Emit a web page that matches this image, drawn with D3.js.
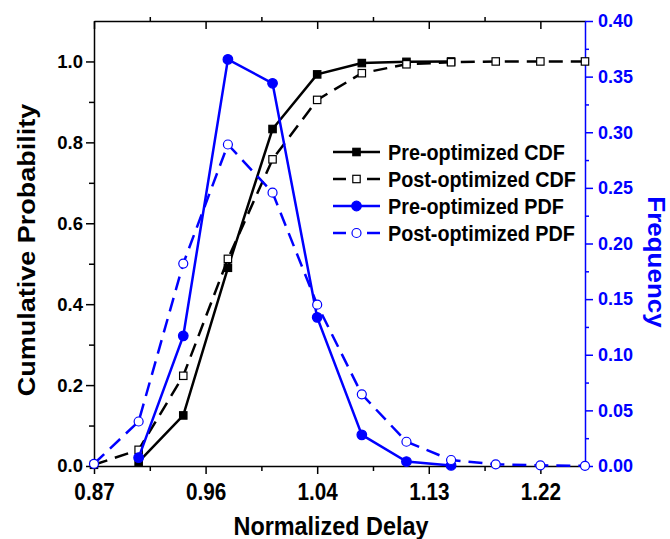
<!DOCTYPE html>
<html>
<head>
<meta charset="utf-8">
<script src="https://cdn.jsdelivr.net/npm/d3@7/dist/d3.min.js"></script>
<style>
  body { margin: 0; background: #fff; }
  svg { display: block; font-family: "Liberation Sans", Arial, sans-serif; }
</style>
</head>
<body>
<script>
// values
const delay = [0.87, 0.905, 0.94, 0.975, 1.01, 1.045, 1.08, 1.115, 1.15, 1.185, 1.22, 1.255];
const preCdf = [null, 0.01, 0.125, 0.49, 0.833, 0.968, 0.996, 0.999, 1.0, null, null, null];
const postCdf = [0.003, 0.04, 0.223, 0.512, 0.758, 0.905, 0.971, 0.993, 0.998, 1.0, 1.0, 1.0];
const prePdf = [null, 0.0075, 0.117, 0.3655, 0.344, 0.1336, 0.028, 0.004, 0.0005, null, null, null];
const postPdf = [0.002, 0.04, 0.182, 0.289, 0.2457, 0.145, 0.0644, 0.0218, 0.0054, 0.0015, 0.0006, 0.0002];

const xTicks = [0.87, 0.9575, 1.045, 1.1325, 1.22];
const xTickLabels = ["0.87", "0.96", "1.04", "1.13", "1.22"];
const leftTicks = [0, 0.2, 0.4, 0.6, 0.8, 1.0];
const rightTicks = [0, 0.05, 0.1, 0.15, 0.2, 0.25, 0.3, 0.35, 0.4];

const width = 670, height = 539;
const margin = {top: 21, right: 85, bottom: 73, left: 94};
const blue = "#0000ff";

const svg = d3.select("body").append("svg")
    .attr("width", width).attr("height", height);

const x = d3.scaleLinear().domain([0.87, 1.255]).range([margin.left, width - margin.right]);
const yL = d3.scaleLinear().domain([0, 1.1]).range([height - margin.bottom, margin.top]);
const yR = d3.scaleLinear().domain([0, 0.4]).range([height - margin.bottom, margin.top]);

const bottom = height - margin.bottom;

// minor ticks first, so major ticks sit on top
const xMinor = xTicks.slice(0, -1).map((t, i) => (t + xTicks[i + 1]) / 2);
const leftMinor = leftTicks.slice(0, -1).map(t => t + 0.1);
const rightMinor = rightTicks.slice(0, -1).map(t => t + 0.025);

function minor(axis, vals, size, color, transform) {
    svg.append("g").attr("transform", transform)
        .call(axis.tickValues(vals).tickSize(size).tickSizeOuter(0).tickFormat(""))
        .call(g => g.select(".domain").remove())
        .call(g => g.selectAll("line").attr("stroke", color).attr("stroke-width", 1.5));
}
minor(d3.axisBottom(x), xMinor, 5, "#000", `translate(0,${bottom})`);
minor(d3.axisBottom(x), xMinor, -4, "#000", `translate(0,${margin.top})`);
minor(d3.axisLeft(yL), leftMinor, 5, "#000", `translate(${margin.left},0)`);
minor(d3.axisRight(yR), rightMinor, 4, blue, `translate(${width - margin.right},0)`);

// bottom axis
svg.append("g")
    .attr("transform", `translate(0,${bottom})`)
    .call(d3.axisBottom(x).tickValues(xTicks).tickSize(8).tickSizeOuter(0).tickPadding(10)
        .tickFormat((d, i) => xTickLabels[i]))
    .call(g => g.select(".domain").attr("stroke-width", 1.5))
    .call(g => g.selectAll("line").attr("stroke-width", 1.5))
    .call(g => g.selectAll("text")
        .attr("font-size", 23).attr("font-weight", "bold").attr("fill", "#000")
        .attr("font-family", "Liberation Sans, Arial, sans-serif")
        .attr("transform", "scale(0.9,1)"));

// top axis, ticks inside, no labels
svg.append("g")
    .attr("transform", `translate(0,${margin.top})`)
    .call(d3.axisTop(x).tickValues(xTicks).tickSize(-8).tickSizeOuter(0).tickFormat(""))
    .call(g => g.select(".domain").attr("stroke-width", 1.5))
    .call(g => g.selectAll("line").attr("stroke-width", 1.5));

// left axis
svg.append("g")
    .attr("transform", `translate(${margin.left},0)`)
    .call(d3.axisLeft(yL).tickValues(leftTicks).tickSize(8).tickSizeOuter(0).tickPadding(3)
        .tickFormat(d3.format(".1f")))
    .call(g => g.select(".domain").attr("stroke-width", 1.5))
    .call(g => g.selectAll("line").attr("stroke-width", 1.5))
    .call(g => g.selectAll("text")
        .attr("font-size", 18.5).attr("font-weight", "bold").attr("fill", "#000")
        .attr("font-family", "Liberation Sans, Arial, sans-serif"));

// right axis (frequency)
svg.append("g")
    .attr("transform", `translate(${width - margin.right},0)`)
    .call(d3.axisRight(yR).tickValues(rightTicks).tickSize(8).tickSizeOuter(0).tickPadding(5)
        .tickFormat(d3.format(".2f")))
    .call(g => g.select(".domain").attr("stroke", blue).attr("stroke-width", 1.5))
    .call(g => g.selectAll("line").attr("stroke", blue).attr("stroke-width", 1.5))
    .call(g => g.selectAll("text")
        .attr("font-size", 18).attr("font-weight", "bold").attr("fill", blue)
        .attr("font-family", "Liberation Sans, Arial, sans-serif"));

// series
const series = [
    {name: "Pre-optimized CDF", vals: preCdf, y: yL, color: "#000", dash: null, shape: "square", filled: true},
    {name: "Post-optimized CDF", vals: postCdf, y: yL, color: "#000", dash: "14,8", shape: "square", filled: false},
    {name: "Pre-optimized PDF", vals: prePdf, y: yR, color: blue, dash: null, shape: "circle", filled: true},
    {name: "Post-optimized PDF", vals: postPdf, y: yR, color: blue, dash: "14,8", shape: "circle", filled: false}
];

function drawMarker(g, s, cx, cy) {
    if (s.shape === "square") {
        g.append("rect")
            .attr("x", cx - 3.7).attr("y", cy - 3.7).attr("width", 7.4).attr("height", 7.4)
            .attr("fill", s.filled ? s.color : "#fff")
            .attr("stroke", s.color).attr("stroke-width", 1.2);
    } else {
        g.append("circle")
            .attr("cx", cx).attr("cy", cy).attr("r", s.filled ? 4.8 : 4.5)
            .attr("fill", s.filled ? s.color : "#fff")
            .attr("stroke", s.color).attr("stroke-width", 1.2);
    }
}

series.forEach(s => {
    const pts = delay.map((d, i) => ({d: d, v: s.vals[i]})).filter(p => p.v !== null);
    const line = d3.line().x(p => x(p.d)).y(p => s.y(p.v));
    svg.append("path")
        .attr("d", line(pts))
        .attr("fill", "none")
        .attr("stroke", s.color)
        .attr("stroke-width", 2.5)
        .attr("stroke-dasharray", s.dash);
    const g = svg.append("g");
    pts.forEach(p => drawMarker(g, s, x(p.d), s.y(p.v)));
});

// legend
const legendRows = [152, 179, 206, 233];
series.forEach((s, i) => {
    const ly = legendRows[i];
    const g = svg.append("g");
    if (s.dash) {
        g.append("line").attr("x1", 333).attr("x2", 346).attr("y1", ly).attr("y2", ly)
            .attr("stroke", s.color).attr("stroke-width", 2.5);
        g.append("line").attr("x1", 367).attr("x2", 380).attr("y1", ly).attr("y2", ly)
            .attr("stroke", s.color).attr("stroke-width", 2.5);
    } else {
        g.append("line").attr("x1", 333).attr("x2", 380).attr("y1", ly).attr("y2", ly)
            .attr("stroke", s.color).attr("stroke-width", 2.5);
    }
    drawMarker(g, s, 356.5, ly);
    g.append("text")
        .attr("transform", `translate(388,${ly + 8}) scale(0.9,1)`)
        .attr("font-size", 22).attr("font-weight", "bold").attr("fill", "#000")
        .text(s.name);
});

// axis titles
svg.append("text")
    .attr("transform", `translate(331,535) scale(0.9,1)`)
    .attr("text-anchor", "middle")
    .attr("font-size", 26).attr("font-weight", "bold")
    .text("Normalized Delay");

svg.append("text")
    .attr("transform", `translate(35,250) rotate(-90) scale(1,0.9)`)
    .attr("text-anchor", "middle")
    .attr("font-size", 27).attr("font-weight", "bold")
    .text("Cumulative Probability");

svg.append("text")
    .attr("transform", `translate(648,262) rotate(90) scale(1,0.9)`)
    .attr("text-anchor", "middle")
    .attr("font-size", 26).attr("font-weight", "bold").attr("fill", blue)
    .text("Frequency");
</script>
</body>
</html>
